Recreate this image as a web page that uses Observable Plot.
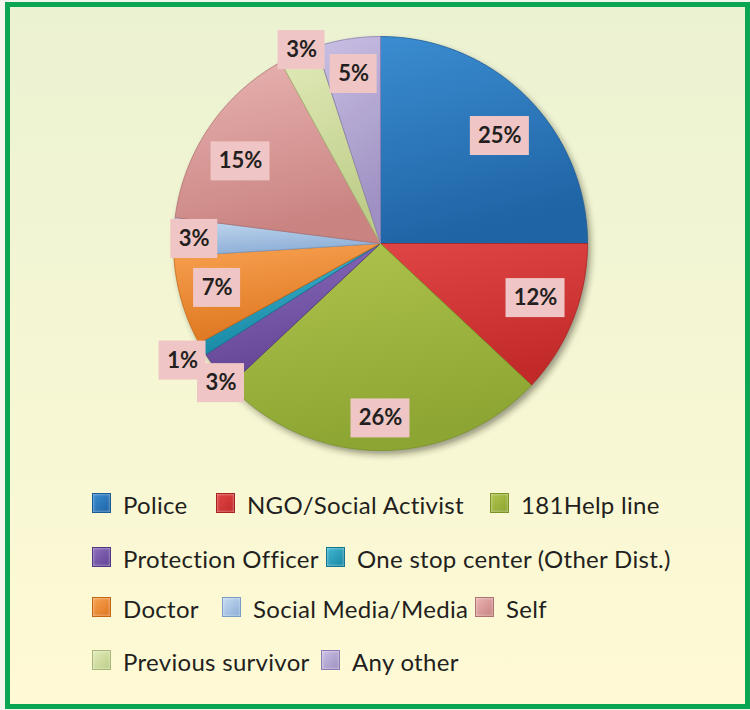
<!DOCTYPE html>
<html>
<head>
<meta charset="utf-8">
<script src="https://cdn.jsdelivr.net/npm/d3@7"></script>
<script src="https://cdn.jsdelivr.net/npm/@observablehq/plot@0.6"></script>
<style>
  html, body { margin: 0; padding: 0; background: #f3f6ec; width: 750px; height: 710px; overflow: hidden; }
  #frame { position: absolute; left: 5px; top: 2px; width: 745px; height: 707px; box-sizing: border-box;
           border: 5px solid #0aa653; background: linear-gradient(#ebf2d2, #fffad5); }
  #chart { position: absolute; left: 0; top: 0; }
  .sw { position: absolute; width: 19px; height: 20px; box-sizing: border-box; }
  .lt { position: absolute; font-family: Lato, "Open Sans", sans-serif; font-size: 24px; line-height: 24px;
        letter-spacing: 0.3px; color: #231f20; white-space: nowrap; }
</style>
</head>
<body>
<div id="frame"></div>
<div id="chart"></div>
<div id="legend"></div>
<script>
// ---- data ----
const categories = ["Police", "NGO/Social Activist", "181Help line", "Protection Officer",
  "One stop center (Other Dist.)", "Doctor", "Social Media/Media", "Self", "Previous survivor", "Any other"];
const values = [25, 12, 26, 3, 1, 7, 3, 15, 3, 5];
const labels = ["25%", "12%", "26%", "3%", "1%", "7%", "3%", "15%", "3%", "5%"];

// ---- styles ----
const colorsLight = ["#3b8cd1", "#e04545", "#afc44e", "#8b6dbd", "#42b6d0", "#f8a252", "#c6dbf1", "#e8b3b1", "#e2ebba", "#cac0e4"];
const colorsDark  = ["#1f64a5", "#c22a2a", "#8da532", "#624393", "#1888a4", "#de761f", "#8cadd6", "#c98381", "#bdcd88", "#9e90c2"];
const strokes     = ["#1b5a95", "#a82222", "#7a9428", "#523680", "#137590", "#c56615", "#7a9cc6", "#b07170", "#a6b873", "#8a7cb0"];

// label layout (radius factor of pie radius, angle shift in degrees)
const labelRadius = [0.776, 0.794, 0.845, 1.024, 1.111, 0.818, 0.90, 0.784, 1.009, 0.829];
const labelShift  = [3, -2.2, 0, -3.4, 0, 1, -0.4, -3.8, 1.2, 0];

// legend layout
const legendRows = [[0, 1, 2], [3, 4], [5, 6, 7], [8, 9]];
const legendX = [[92, 216, 490], [92, 326], [92, 222, 475], [92, 321]];
const legendTop = [493, 547, 597, 650];

// ---- geometry ----
const R = 207;
const arcs = d3.pie().sort(null).value(d => d)(values);
function slicePoints(a0, a1) {
  const pts = [{x: 0, y: 0}];
  const n = Math.max(2, Math.ceil((a1 - a0) / (Math.PI / 360)));
  for (let k = 0; k <= n; k++) {
    const a = a0 + (a1 - a0) * k / n;
    pts.push({x: Math.sin(a), y: Math.cos(a)});
  }
  pts.push({x: 0, y: 0});
  return pts;
}
const circle = slicePoints(0, 2 * Math.PI);

const labelData = arcs.map((a, i) => {
  const mid = (a.startAngle + a.endAngle) / 2 + labelShift[i] * Math.PI / 180;
  const r = labelRadius[i];
  const hw = (labels[i].length === 2 ? 23.5 : 29.5) / R, hh = 19.5 / R;
  const x = r * Math.sin(mid), y = r * Math.cos(mid);
  return {x, y, x1: x - hw, x2: x + hw, y1: y - hh, y2: y + hh, text: labels[i]};
});

const sliceMarks = arcs.map((a, i) =>
  Plot.line(slicePoints(a.startAngle, a.endAngle), {
    x: "x", y: "y", fill: `url(#grad${i})`, stroke: strokes[i], strokeWidth: 0.8, curve: "linear"
  })
);

const svg = Plot.plot({
  width: 750, height: 470,
  marginLeft: 380 - R, marginRight: 750 - 380 - R,
  marginTop: 36, marginBottom: 470 - 36 - 2 * R,
  style: {background: "transparent", overflow: "visible"},
  x: {axis: null, domain: [-1, 1]},
  y: {axis: null, domain: [-1, 1]},
  marks: [
    Plot.line(circle, {x: "x", y: "y", fill: "rgba(40,40,20,0.45)", stroke: "none", dx: 3, dy: 4}),
    ...sliceMarks,
    Plot.rect(labelData, {x1: "x1", x2: "x2", y1: "y1", y2: "y2", fill: "#efc6c5"}),
    Plot.text(labelData, {x: "x", y: "y", text: "text", fontSize: 22, fontWeight: "bold",
      fill: "#231f20", fontFamily: "Lato, 'Open Sans', sans-serif"})
  ]
});

// gradients & shadow filter
const ns = "http://www.w3.org/2000/svg";
const defs = document.createElementNS(ns, "defs");
let defsHtml = `<filter id="blur" x="-10%" y="-10%" width="120%" height="120%"><feGaussianBlur stdDeviation="3"/></filter>`;
colorsLight.forEach((c, i) => {
  defsHtml += `<linearGradient id="grad${i}" x1="0" y1="0" x2="0.25" y2="1">
    <stop offset="0" stop-color="${c}"/><stop offset="1" stop-color="${colorsDark[i]}"/></linearGradient>`;
});
defs.innerHTML = defsHtml;
svg.insertBefore(defs, svg.firstChild);
const firstLine = svg.querySelector('g[aria-label="line"]');
if (firstLine) firstLine.setAttribute("filter", "url(#blur)");
document.getElementById("chart").appendChild(svg);

// legend
const legend = document.getElementById("legend");
legendRows.forEach((row, r) => {
  row.forEach((idx, j) => {
    const x = legendX[r][j], top = legendTop[r];
    const sw = document.createElement("div");
    sw.className = "sw";
    sw.style.left = x + "px";
    sw.style.top = top + "px";
    sw.style.background = `linear-gradient(135deg, ${colorsLight[idx]}, ${colorsDark[idx]})`;
    sw.style.border = `1px solid ${strokes[idx]}`;
    sw.style.boxShadow = "inset 0 0 3px rgba(255,255,255,0.6)";
    legend.appendChild(sw);
    const t = document.createElement("div");
    t.className = "lt";
    t.style.left = (x + 31) + "px";
    t.style.top = top + "px";
    t.textContent = categories[idx];
    legend.appendChild(t);
  });
});
</script>
</body>
</html>
